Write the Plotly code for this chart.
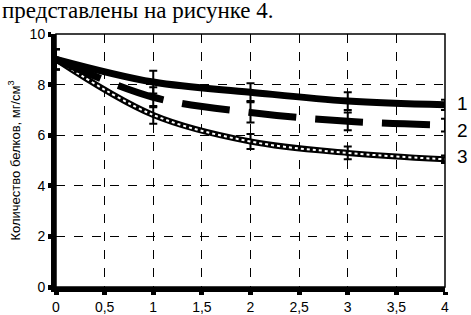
import plotly.graph_objects as go

x = [0, 1, 2, 3, 4]
s1 = [9.0, 8.1, 7.7, 7.35, 7.2]
s2 = [9.0, 7.5, 6.9, 6.55, 6.4]
s3 = [9.0, 6.8, 5.75, 5.3, 5.05]
e1 = [0.4, 0.45, 0.35, 0.35, 0.2]
e2 = [0.4, 0.4, 0.4, 0.35, 0.25]
e3 = [0.4, 0.35, 0.3, 0.25, 0.15]
labels = ["1", "2", "3"]
label_y = [7.27, 6.2, 5.14]
xticks = [0, 0.5, 1, 1.5, 2, 2.5, 3, 3.5, 4]
xticktext = ["0", "0,5", "1", "1,5", "2", "2,5", "3", "3,5", "4"]
yticks = [0, 2, 4, 6, 8, 10]

fig = go.Figure()

def err(e):
    return dict(type="data", array=e, visible=True, color="black", thickness=2, width=4)

fig.add_trace(go.Scatter(x=x, y=s3, mode="lines", line=dict(color="black", width=6, shape="spline"),
                         error_y=err(e3), showlegend=False))
fig.add_trace(go.Scatter(x=x, y=s3, mode="lines", line=dict(color="white", width=2, shape="spline", dash="dot"),
                         showlegend=False))
fig.add_trace(go.Scatter(x=x, y=s2, mode="lines", line=dict(color="black", width=7, shape="spline", dash="48px,19px"),
                         error_y=err(e2), showlegend=False))
fig.add_trace(go.Scatter(x=x, y=s1, mode="lines", line=dict(color="black", width=7, shape="spline"),
                         error_y=err(e1), showlegend=False))

for lab, yv in zip(labels, label_y):
    fig.add_annotation(x=1.025, xref="paper", y=yv, yref="y", text=lab, showarrow=False,
                       xanchor="left", font=dict(family="Liberation Sans", size=19, color="black"))

fig.add_annotation(x=-56/389, xref="paper", y=1 + 24/253, yref="paper", text="представлены на рисунке 4.",
                   showarrow=False, xanchor="left", yanchor="middle",
                   font=dict(family="Liberation Serif", size=23, color="black"))

fig.add_shape(type="rect", xref="paper", yref="paper", x0=0, x1=1, y0=0, y1=1,
              line=dict(color="black", width=1.5))

fig.update_layout(
    template="none",
    width=471, height=315,
    margin=dict(l=56, r=26, t=34, b=28),
    plot_bgcolor="white", paper_bgcolor="white",
    xaxis=dict(range=[0, 4], tickvals=xticks, ticktext=xticktext, showgrid=True, automargin=False,
               griddash="dash", gridcolor="black", gridwidth=1,
               showline=True, linecolor="black", linewidth=5, zeroline=False,
               ticks="outside", ticklen=3, tickwidth=5, tickcolor="black",
               tickfont=dict(family="Liberation Sans", size=14, color="black")),
    yaxis=dict(range=[0, 10], tickvals=yticks, showgrid=True, automargin=False,
               griddash="dash", gridcolor="black", gridwidth=1,
               showline=True, linecolor="black", linewidth=5, zeroline=False,
               ticks="outside", ticklen=3, tickwidth=5, tickcolor="black",
               tickfont=dict(family="Liberation Sans", size=14, color="black"),
               title=dict(text="Количество белков, мг/см<sup>3</sup>", standoff=8,
                          font=dict(family="Liberation Sans", size=13, color="black"))),
)

fig.write_html("out.html", config={"displayModeBar": False},
               post_script="document.body.style.margin='0';document.body.style.overflow='hidden';")
